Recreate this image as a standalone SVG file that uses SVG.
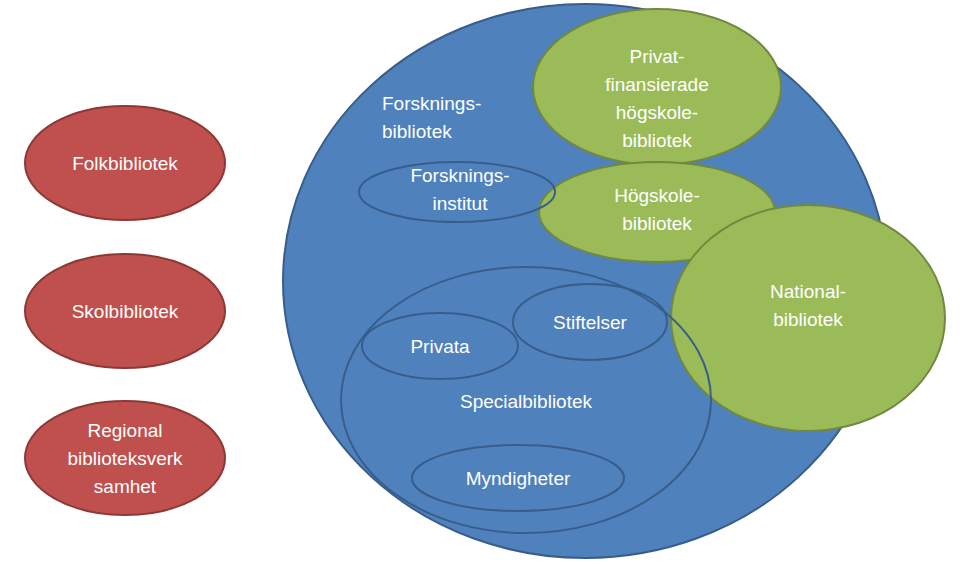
<svg xmlns="http://www.w3.org/2000/svg" width="960" height="564" viewBox="0 0 960 564">
<style>
.b{fill:#4f81bd;stroke:#385d8a;stroke-width:2}
.o{fill:none;stroke:#385d8a;stroke-width:2}
.r{fill:#c0504d;stroke:#8c3836;stroke-width:2}
.g{fill:#9bbb59;stroke:#71893f;stroke-width:2}
text{font-family:"Liberation Sans","DejaVu Sans",sans-serif;font-size:19px;fill:#fff;text-anchor:middle}
</style>
<rect width="960" height="564" fill="#fff"/>
<g id="folk"><ellipse class="r" cx="125" cy="163" rx="100" ry="57"/><text x="125" y="170">Folkbibliotek</text></g>
<g id="skol"><ellipse class="r" cx="125" cy="311" rx="100" ry="57"/><text x="125" y="318">Skolbibliotek</text></g>
<g id="regional"><ellipse class="r" cx="125" cy="458" rx="100" ry="57"/><text x="125" y="437">Regional</text><text x="125" y="465">biblioteksverk</text><text x="125" y="493">samhet</text></g>
<g id="forskning"><ellipse class="b" cx="585" cy="281" rx="302" ry="277"/><text x="382" y="110" style="text-anchor:start">Forsknings-</text><text x="382" y="138" style="text-anchor:start">bibliotek</text></g>
<g id="privatfin"><ellipse class="g" cx="657" cy="87" rx="124" ry="78"/><text x="657" y="63">Privat-</text><text x="657" y="91">finansierade</text><text x="657" y="119">högskole-</text><text x="657" y="147">bibliotek</text></g>
<g id="hogskole"><ellipse class="g" cx="657" cy="212" rx="118" ry="50"/><text x="657" y="202">Högskole-</text><text x="657" y="230">bibliotek</text></g>
<g id="national"><ellipse class="g" cx="808" cy="318" rx="137" ry="113"/><text x="808" y="298">National-</text><text x="808" y="326">bibliotek</text></g>
<g id="institut"><ellipse class="o" cx="457" cy="192" rx="98" ry="30"/><text x="460" y="182">Forsknings-</text><text x="460" y="210">institut</text></g>
<g id="special"><ellipse class="o" cx="526" cy="400" rx="185" ry="133"/><text x="526" y="408">Specialbibliotek</text></g>
<g id="privata"><ellipse class="o" cx="440" cy="346" rx="78" ry="33"/><text x="440" y="353">Privata</text></g>
<g id="stiftelser"><ellipse class="o" cx="590" cy="322" rx="77" ry="38"/><text x="590" y="329">Stiftelser</text></g>
<g id="myndigheter"><ellipse class="o" cx="518" cy="478" rx="106" ry="33"/><text x="518" y="485">Myndigheter</text></g>
<g id="connectors"/>
</svg>
